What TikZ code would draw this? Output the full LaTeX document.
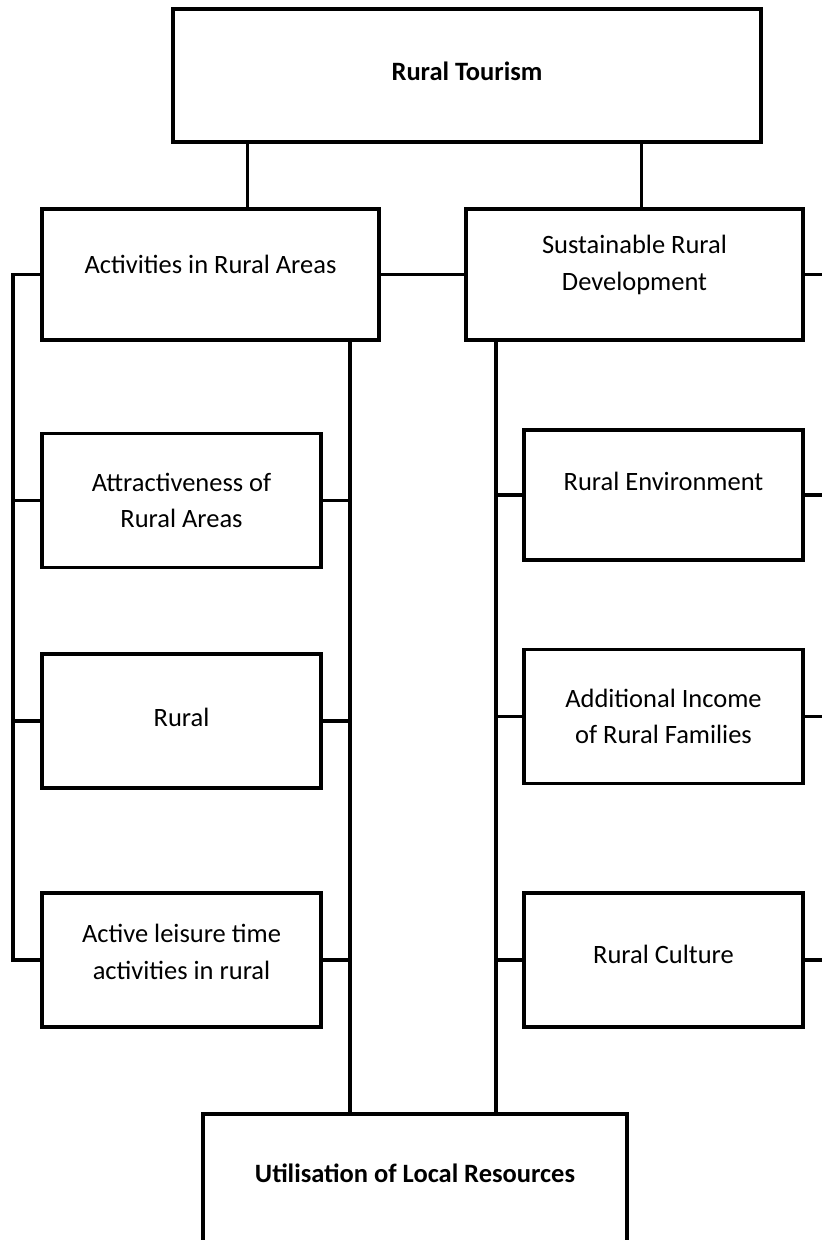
\documentclass[tikz,border=0pt]{standalone}
\usepackage{fontspec}
\setmainfont{Carlito}
\begin{document}
\begin{tikzpicture}[x=0.03cm,y=-0.03cm,
    box/.style={draw,line width=2.8pt,align=center,inner sep=0pt,
        font=\fontsize{22.6pt}{31pt}\selectfont},
    head/.style={box,font=\fontsize{22.6pt}{31pt}\selectfont\bfseries},
    wide/.style={box,minimum width=10.11cm,minimum height=3.93cm},
    item/.style={box,minimum width=8.37cm,minimum height=4.02cm},
    lift/.style={text depth=#1},
    wire/.style={line width=2.8pt}]
    \useasboundingbox (0,0) rectangle (822,1240);

    \node[head,minimum width=17.64cm,minimum height=3.99cm,lift=8pt] (tour) at (467,75.5) {Rural Tourism};
    \node[wide,lift=17pt] (act) at (210.5,274.5) {Activities in Rural Areas};
    \node[wide,lift=20pt] (sus) at (634.5,274.5) {Sustainable Rural\\Development};

    \node[item] (attr) at (181.5,500.5) {Attractiveness of\\Rural Areas};
    \node[item,lift=7pt] (rural) at (181.5,721) {Rural};
    \node[item,lift=14pt] (leis) at (181.5,960) {Active leisure time\\activities in rural};
    \node[item,minimum height=3.9cm,lift=24pt] (env) at (663.5,495) {Rural Environment};
    \node[item] (inc) at (663.5,716.5) {Additional Income\\of Rural Families};
    \node[item,lift=10pt] (cult) at (663.5,960) {Rural Culture};

    \node[head,minimum width=12.72cm,minimum height=7.5cm,lift=113pt] (util) at (415,1239) {Utilisation of Local Resources};

    \coordinate (tl) at (247.5,0);
    \coordinate (tr) at (641.7,0);
    \coordinate (ll) at (13,0);
    \coordinate (lr) at (350,0);
    \coordinate (rl) at (496,0);
    \coordinate (rr) at (822,0);

    \draw[wire] (tour.south -| tl) -- (act.north -| tl);
    \draw[wire] (tour.south -| tr) -- (sus.north -| tr);
    \draw[wire] (act) -- (sus);
    \draw[wire] (sus.east) -- (sus.east -| rr);
    \draw[wire] (act.west) -| (ll |- leis.west) -- (leis.west);
    \draw[wire] (act.south -| lr) -- (util.north -| lr);
    \draw[wire] (sus.south -| rl) -- (util.north -| rl);
    \foreach \n in {attr,rural}
        \draw[wire] (\n.west) -- (\n.west -| ll);
    \foreach \n in {attr,rural,leis}
        \draw[wire] (\n.east) -- (\n.east -| lr);
    \foreach \n in {env,inc,cult} {
        \draw[wire] (\n.west) -- (\n.west -| rl);
        \draw[wire] (\n.east) -- (\n.east -| rr);
    }
\end{tikzpicture}
\end{document}
